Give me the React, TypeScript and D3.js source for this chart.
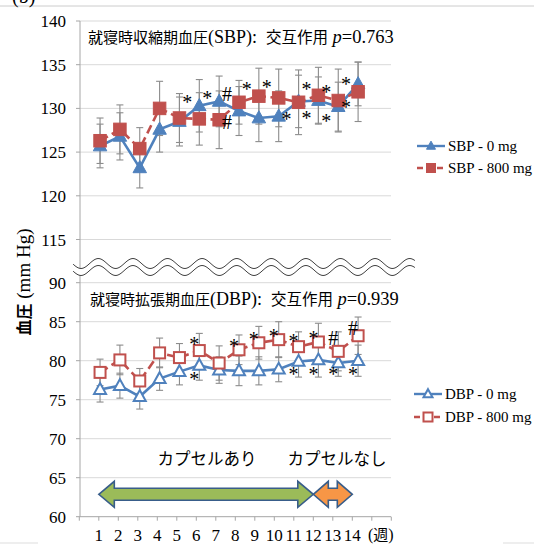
import React from "react";
import * as d3 from "d3";

const weeks = [1, 2, 3, 4, 5, 6, 7, 8, 9, 10, 11, 12, 13, 14];
const sbp0 = [125.7, 126.8, 123.2, 127.6, 128.5, 130.3, 130.8, 129.7, 128.9, 129.1, 130.8, 130.9, 130.2, 132.8];
const sbp0SD = [2.5, 2.7, 2.3, 2.6, 2.8, 3.0, 2.9, 2.8, 2.7, 2.9, 3.0, 2.7, 2.8, 2.5];
const sbp800 = [126.3, 127.6, 125.4, 130.0, 128.9, 128.8, 128.7, 130.7, 131.4, 131.2, 130.7, 131.5, 130.9, 131.9];
const sbp800SD = [2.6, 2.8, 2.4, 3.1, 2.8, 3.0, 3.3, 2.5, 3.2, 3.3, 3.7, 3.2, 3.6, 3.4];

const dbp0 = [76.3, 76.8, 75.4, 77.7, 78.6, 79.4, 78.8, 78.7, 78.7, 78.9, 79.9, 80.1, 79.7, 80.0];
const dbp0SD = [1.6, 1.6, 1.6, 1.5, 1.7, 1.9, 1.7, 1.9, 1.8, 1.6, 2.0, 2.2, 1.7, 2.0];
const dbp800 = [78.5, 80.1, 77.4, 81.0, 80.4, 81.3, 79.7, 81.4, 82.3, 82.7, 81.8, 82.4, 81.2, 83.2];
const dbp800SD = [1.7, 1.9, 1.6, 1.9, 1.8, 2.2, 2.2, 1.9, 2.1, 2.3, 1.9, 2.4, 2.5, 2.4];

const sbpTicks = [115, 120, 125, 130, 135, 140];
const dbpTicks = [60, 65, 70, 75, 80, 85, 90];
const weekLabels = ["1", "2", "3", "4", "5", "6", "7", "8", "9", "10", "11", "12", "13", "14"];

// significance marks: [week, value, symbol]
const sbpMarks: [number, number, string][] = [
  [6, 131.2, "*"], [7, 131.6, "*"], [8, 131.7, "#"], [8, 128.4, "#"],
  [9, 132.7, "*"], [10, 132.9, "*"], [11, 129.2, "*"],
  [12, 132.7, "*"], [12, 129.4, "*"], [13, 132.3, "*"], [13, 129.0, "*"],
  [14, 133.2, "*"], [14, 130.6, "*"],
];
const dbpMarks: [number, number, string][] = [
  [6, 82.7, "*"], [6, 78.2, "*"], [8, 82.4, "*"], [9, 83.3, "*"], [10, 83.7, "*"],
  [11, 83.0, "*"], [11, 78.8, "*"], [12, 83.4, "*"], [12, 78.8, "*"],
  [13, 82.9, "#"], [13, 78.8, "*"], [14, 84.2, "#"], [14, 78.8, "*"],
];

const sbpTitle = ["就寝時収縮期血圧", "(SBP):", "交互作用", " ", "p", "=0.763"];
const dbpTitle = ["就寝時拡張期血圧", "(DBP):", "交互作用", " ", "p", "=0.939"];
const phaseLabels = ["カプセルあり", "カプセルなし"];
const legendTop = ["SBP - 0 mg", "SBP - 800 mg"];
const legendBot = ["DBP - 0 mg", "DBP - 800 mg"];

const BLUE = "#4F81BD";
const RED = "#C0504D";
const GRID = "#D9D9D9";
const AXIS = "#A6A6A6";
const ERR = "#8C8C8C";
const SERIF = "'Liberation Serif', 'Times New Roman', serif";
const CJK = "'Noto Sans CJK JP', 'Noto Sans', sans-serif";

const xPt = d3.scaleLinear().domain([0, 16]).range([80.2, 397.8]);
const xTick = d3.scaleLinear().domain([0, 16]).range([79.3, 391.3]);
const yTop = d3.scaleLinear().domain([115, 140]).range([239.5, 21]);
const yBot = d3.scaleLinear().domain([60, 90]).range([516.7, 282.7]);
const X0 = 80;
const X1 = 391;

function triPath(cx: number, cy: number, s: number) {
  const h = s * 0.9;
  return `M${cx},${cy - h * 0.6}L${cx + s / 2},${cy + h * 0.4}L${cx - s / 2},${cy + h * 0.4}Z`;
}

function Series({ vals, y, color, dashed }: any) {
  const line = d3.line<number>().x((_, i) => xPt(weeks[i])).y((v) => y(v));
  return (
    <path d={line(vals) || ""} fill="none" stroke={color} strokeWidth={2.6}
      strokeDasharray={dashed ? "9,4.5" : undefined} />
  );
}

function ErrorBars({ vals, sd, y }: any) {
  return (
    <g stroke={ERR} strokeWidth={1.1}>
      {vals.map((v: number, i: number) => {
        const x = xPt(weeks[i]);
        const t = y(v + sd[i]);
        const b = y(v - sd[i]);
        return (
          <g key={i}>
            <line x1={x} x2={x} y1={t} y2={b} />
            <line x1={x - 3.5} x2={x + 3.5} y1={t} y2={t} />
            <line x1={x - 3.5} x2={x + 3.5} y1={b} y2={b} />
          </g>
        );
      })}
    </g>
  );
}

function Markers({ vals, y, color, marker, hollow, size }: any) {
  return (
    <g>
      {vals.map((v: number, i: number) => {
        const x = xPt(weeks[i]);
        const cy = y(v);
        if (marker === "tri")
          return <path key={i} d={triPath(x, cy, size)} fill={hollow ? "#fff" : color} stroke={color} strokeWidth={hollow ? 2 : 1} />;
        return <rect key={i} x={x - size / 2} y={cy - size / 2} width={size} height={size} fill={hollow ? "#fff" : color} stroke={color} strokeWidth={hollow ? 2 : 1} />;
      })}
    </g>
  );
}

function Marks({ marks, y, dx }: any) {
  return (
    <g fontFamily={SERIF} fontSize={20} fill="#000" textAnchor="middle">
      {marks.map(([w, v, s]: [number, number, string], i: number) => (
        <text key={i} x={xPt(w) + dx} y={y(v) + (s === "*" ? 11 : 7)}>{s}</text>
      ))}
    </g>
  );
}

function Title({ parts, x, y }: any) {
  return (
    <text x={x} y={y} fill="#000">
      <tspan fontFamily={CJK} fontSize={15}>{parts[0]}</tspan>
      <tspan fontFamily={SERIF} fontSize={18}>{parts[1]}</tspan>
      <tspan dx={9} fontFamily={CJK} fontSize={15.5}>{parts[2]}</tspan>
      <tspan fontFamily={SERIF} fontSize={18}>{parts[3]}</tspan>
      <tspan fontFamily={SERIF} fontSize={18.5} fontStyle="italic">{parts[4]}</tspan>
      <tspan fontFamily={SERIF} fontSize={18.5}>{parts[5]}</tspan>
    </text>
  );
}

function Legend({ labels, x, ys, hollow }: any) {
  return (
    <g>
      {labels.map((lab: string, i: number) => {
        const cy = ys[i];
        const color = i === 0 ? BLUE : RED;
        const cx = x + 14;
        return (
          <g key={i}>
            <line x1={x} x2={x + 28} y1={cy} y2={cy} stroke={color} strokeWidth={2.4}
              strokeDasharray={i === 1 ? "6,4" : undefined} />
            {i === 0 ? (
              <path d={triPath(cx, cy, 9)} fill={hollow ? "#fff" : color} stroke={color} strokeWidth={hollow ? 2 : 1} />
            ) : (
              <rect x={cx - 4.5} y={cy - 4.5} width={9} height={9} fill={hollow ? "#fff" : color} stroke={color} strokeWidth={hollow ? 2 : 1} />
            )}
            <text x={x + 31} y={cy + 5} fontFamily={SERIF} fontSize={15} fill="#000">{lab}</text>
          </g>
        );
      })}
    </g>
  );
}

function DoubleArrow({ x1, x2, cy, fill, headLen, shaftH, headH }: any) {
  const sh = shaftH / 2;
  const hh = headH / 2;
  const d = `M${x1},${cy}L${x1 + headLen},${cy - hh}L${x1 + headLen},${cy - sh}L${x2 - headLen},${cy - sh}L${x2 - headLen},${cy - hh}L${x2},${cy}L${x2 - headLen},${cy + hh}L${x2 - headLen},${cy + sh}L${x1 + headLen},${cy + sh}L${x1 + headLen},${cy + hh}Z`;
  return <path d={d} fill={fill} stroke="#385D8A" strokeWidth={1.6} strokeLinejoin="miter" />;
}

export default function App() {
  const waveX = d3.range(73, 416, 1);
  const wy = (c: number) => (x: number) => c - 5 * Math.cos((2 * Math.PI * (x - 98.3)) / 34.6);
  const waveLine = (c: number) => d3.line<number>().x((x) => x).y(wy(c)).curve(d3.curveBasis)(waveX) || "";
  const waveArea = d3.area<number>().x((x) => x).y0(wy(263.5)).y1(wy(270.5))(waveX) || "";

  return (
    <svg width={534} height={544} style={{ position: "absolute", left: 0, top: 0, background: "#fff" }}>
      <rect x={0} y={0} width={534} height={544} fill="#fff" />
      <line x1={0} x2={534} y1={6} y2={6} stroke="#CCCCCC" strokeWidth={1} />
      <text x={12} y={3} fontFamily={SERIF} fontSize={20} fill="#000">(b)</text>
      <line x1={0} x2={38} y1={543} y2={543} stroke="#DDDDDD" strokeWidth={1} />
      <line x1={503} x2={534} y1={543} y2={543} stroke="#DDDDDD" strokeWidth={1} />

      {sbpTicks.map((t) => (
        <line key={"gt" + t} x1={X0} x2={X1} y1={yTop(t)} y2={yTop(t)} stroke={GRID} strokeWidth={1} />
      ))}
      {dbpTicks.filter((t) => t !== 60).map((t) => (
        <line key={"gb" + t} x1={X0} x2={X1} y1={yBot(t)} y2={yBot(t)} stroke={GRID} strokeWidth={1} />
      ))}
      <line x1={X0} x2={X0} y1={yTop(140)} y2={yBot(60)} stroke={AXIS} strokeWidth={1} />
      <line x1={X0} x2={X1} y1={yBot(60)} y2={yBot(60)} stroke={AXIS} strokeWidth={1} />
      {sbpTicks.map((t) => (
        <g key={"tt" + t}>
          <line x1={X0 - 4} x2={X0} y1={yTop(t)} y2={yTop(t)} stroke={AXIS} />
          <text x={66} y={yTop(t) + 6} textAnchor="end" fontFamily={SERIF} fontSize={17} fill="#000">{t}</text>
        </g>
      ))}
      {dbpTicks.map((t) => (
        <g key={"tb" + t}>
          <line x1={X0 - 4} x2={X0} y1={yBot(t)} y2={yBot(t)} stroke={AXIS} />
          <text x={66} y={yBot(t) + 6} textAnchor="end" fontFamily={SERIF} fontSize={17} fill="#000">{t}</text>
        </g>
      ))}
      {d3.range(0, 17).map((v) => (
        <line key={"xt" + v} x1={xTick(v)} x2={xTick(v)} y1={yBot(60)} y2={yBot(60) + 4} stroke={AXIS} />
      ))}
      {weekLabels.map((l, i) => (
        <text key={"wl" + i} x={xTick(weeks[i])} y={540.5} textAnchor="middle" fontFamily={SERIF} fontSize={17} fill="#000">{l}</text>
      ))}
      <text x={368} y={540} fontSize={16} fill="#000">
        <tspan fontFamily={SERIF}>(</tspan>
        <tspan fontFamily={CJK} fontSize={15}>週</tspan>
        <tspan fontFamily={SERIF}>)</tspan>
      </text>

      <path d={waveArea} fill="#fff" stroke="none" />
      <path d={waveLine(263.5)} fill="none" stroke="#404040" strokeWidth={1} />
      <path d={waveLine(270.5)} fill="none" stroke="#404040" strokeWidth={1} />

      <text transform="translate(30,282) rotate(-90)" textAnchor="middle" fill="#000">
        <tspan fontFamily={CJK} fontSize={16} fontWeight="bold">血圧</tspan>
        <tspan fontFamily={SERIF} fontSize={19}> (mm Hg)</tspan>
      </text>

      <Title parts={sbpTitle} x={88} y={43} />
      <Title parts={dbpTitle} x={90} y={305} />

      <ErrorBars vals={sbp0} sd={sbp0SD} y={yTop} />
      <ErrorBars vals={sbp800} sd={sbp800SD} y={yTop} />
      <Series vals={sbp0} y={yTop} color={BLUE} />
      <Markers vals={sbp0} y={yTop} color={BLUE} marker="tri" size={13.5} />
      <Series vals={sbp800} y={yTop} color={RED} dashed />
      <Markers vals={sbp800} y={yTop} color={RED} marker="sq" size={12.5} />
      <Marks marks={sbpMarks} y={yTop} dx={-12} />

      <ErrorBars vals={dbp0} sd={dbp0SD} y={yBot} />
      <ErrorBars vals={dbp800} sd={dbp800SD} y={yBot} />
      <Series vals={dbp0} y={yBot} color={BLUE} />
      <Markers vals={dbp0} y={yBot} color={BLUE} marker="tri" size={12} hollow />
      <Series vals={dbp800} y={yBot} color={RED} dashed />
      <Markers vals={dbp800} y={yBot} color={RED} marker="sq" size={11} hollow />
      <Marks marks={dbpMarks} y={yBot} dx={-5} />

      <Legend labels={legendTop} x={417} ys={[146, 168]} />
      <Legend labels={legendBot} x={414} ys={[394, 417]} hollow />

      <text x={207} y={465} textAnchor="middle" fontFamily={CJK} fontSize={16.5} fill="#000">{phaseLabels[0]}</text>
      <text x={337} y={465} textAnchor="middle" fontFamily={CJK} fontSize={16.5} fill="#000">{phaseLabels[1]}</text>
      <DoubleArrow x1={xTick(1)} x2={xTick(12)} cy={494.3} fill="#9BBB59" headLen={15.5} shaftH={12} headH={26} />
      <DoubleArrow x1={xTick(12)} x2={xTick(14)} cy={494.3} fill="#F79646" headLen={15} shaftH={12} headH={26} />
    </svg>
  );
}
